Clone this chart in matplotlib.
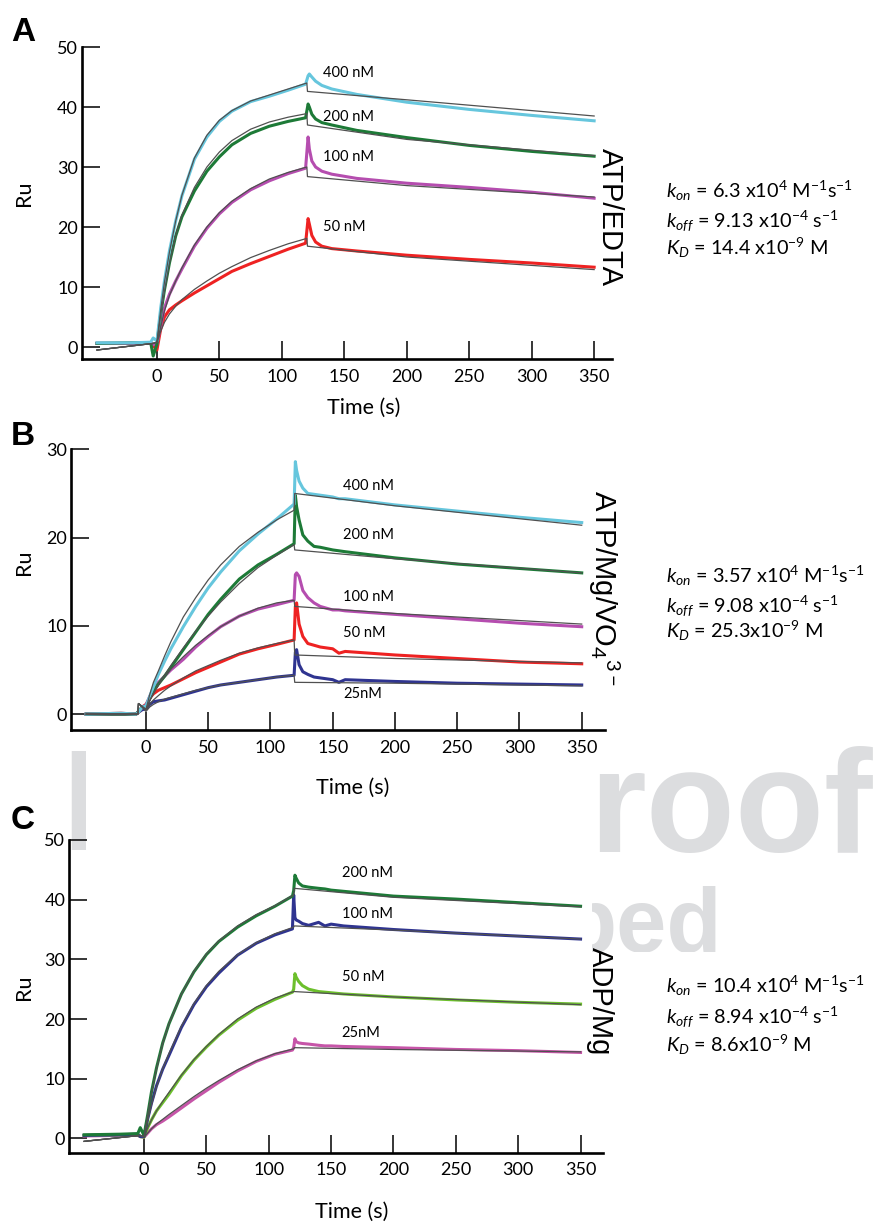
import matplotlib
matplotlib.use("Agg")
from matplotlib import pyplot as plt
from matplotlib.transforms import Bbox, TransformedBbox

W, H = 879, 1224

# ---- panel A (ATP/EDTA) : sensorgram data, shared time grid ----
tA = [-48, -20, -5, -3, 0, 3, 6, 10, 15, 20, 30, 40, 50, 60, 75, 90, 105, 119,
      121, 122, 124, 127, 132, 140, 160, 200, 250, 300, 350]
A400 = [0.7, 0.7, 0.8, 1.5, 1.0, 6.5, 11.0, 16.0, 21.0, 25.2, 31.3, 35.0, 37.6, 39.3, 40.9, 41.8, 42.8, 43.8,
        45.2, 45.5, 45.0, 44.3, 43.6, 43.0, 42.1, 40.8, 39.6, 38.6, 37.7]
A200 = [0.6, 0.7, 0.7, -1.5, 0.5, 5.5, 9.5, 14.0, 18.5, 21.7, 26.0, 29.3, 31.7, 33.7, 35.6, 36.8, 37.6, 38.2,
        40.5, 40.0, 38.8, 38.0, 37.4, 37.0, 36.1, 34.9, 33.6, 32.6, 31.8]
A100 = [0.6, 0.6, 0.6, 0.4, 0.5, 3.5, 6.5, 8.8, 11.0, 13.0, 16.8, 19.8, 22.2, 24.1, 26.2, 27.7, 28.9, 29.8,
        35.0, 33.0, 31.0, 30.0, 29.3, 28.8, 28.1, 27.3, 26.6, 25.8, 24.8]
A50 = [0.6, 0.6, 0.6, 0.2, -0.5, 3.0, 5.0, 6.2, 7.0, 7.7, 9.0, 10.2, 11.4, 12.6, 13.9, 15.1, 16.3, 17.3,
       21.4, 20.5, 18.6, 17.5, 16.8, 16.4, 16.0, 15.3, 14.6, 14.0, 13.3]
# fitted curves A
ftA = [-48, -3, 0, 3, 6, 10, 15, 20, 30, 40, 50, 60, 75, 90, 105, 120, 120.5, 200, 350]
fA400 = [-0.5, 0.6, 0.8, 6.2, 10.8, 15.8, 21.0, 25.3, 31.5, 35.3, 37.8, 39.4, 41.0, 42.0, 43.0, 44.0, 42.6, 41.2, 38.5]
fA200 = [-0.5, 0.6, 0.8, 5.3, 9.3, 13.9, 18.6, 22.0, 26.6, 30.0, 32.5, 34.4, 36.3, 37.5, 38.3, 38.9, 37.0, 34.6, 31.9]
fA100 = [-0.5, 0.6, 0.8, 3.3, 6.0, 8.6, 11.0, 13.2, 17.0, 20.0, 22.4, 24.3, 26.4, 28.0, 29.1, 30.0, 28.4, 26.9, 25.0]
fA50 = [-0.5, 0.6, 0.8, 2.6, 4.1, 5.5, 6.8, 7.9, 9.6, 11.0, 12.3, 13.4, 14.9, 16.1, 17.2, 18.1, 16.8, 15.0, 12.9]

# ---- panel B (ATP/Mg/VO4) ----
tB = [-48, -20, -8, -6, -3, 0, 3, 6, 10, 15, 20, 30, 40, 50, 60, 75, 90, 105, 119,
      120, 121, 123, 126, 130, 135, 140, 150, 155, 160, 200, 250, 300, 350]
B400 = [0.0, 0.1, 0.0, 0.2, 0.8, 0.9, 2.0, 3.1, 4.5, 6.0, 7.4, 9.9, 12.2, 14.3, 16.1, 18.5, 20.4, 22.1, 23.8,
        28.6, 27.6, 26.4, 25.6, 25.0, 24.9, 24.8, 24.6, 24.4, 24.4, 23.7, 23.0, 22.3, 21.7]
B200 = [0.0, 0.0, 0.0, 0.3, 0.8, 0.9, 1.8, 2.6, 3.4, 4.3, 5.3, 7.3, 9.3, 11.3, 13.0, 15.3, 16.9, 18.1, 19.3,
        24.8, 23.5, 22.0, 20.3, 19.6, 19.0, 18.9, 18.6, 18.5, 18.4, 17.7, 17.0, 16.5, 16.0]
B100 = [0.0, 0.0, 0.0, 0.3, 0.8, 1.0, 2.0, 2.8, 3.6, 4.3, 5.0, 6.2, 7.6, 8.8, 9.9, 11.1, 11.9, 12.4, 12.9,
        15.8, 16.0, 15.6, 14.0, 13.2, 12.6, 12.2, 11.8, 11.8, 11.7, 11.3, 10.8, 10.3, 9.9]
B50 = [0.0, 0.1, 0.0, 0.2, 0.8, 1.1, 1.8, 2.3, 2.7, 3.0, 3.3, 4.0, 4.7, 5.3, 5.9, 6.8, 7.4, 7.9, 8.4,
       12.2, 12.6, 10.2, 8.8, 8.0, 7.8, 7.6, 7.4, 6.9, 7.1, 6.7, 6.3, 5.9, 5.7]
B25 = [0.0, 0.0, 0.0, 0.2, 0.5, 0.6, 1.1, 1.4, 1.5, 1.6, 1.8, 2.2, 2.6, 3.0, 3.3, 3.6, 3.9, 4.2, 4.4,
       7.0, 7.3, 5.6, 4.8, 4.5, 4.2, 4.1, 3.9, 3.6, 3.9, 3.7, 3.5, 3.4, 3.3]
ftB = [-48, -6.5, -6, 0, 3, 6, 10, 15, 20, 30, 40, 50, 60, 75, 90, 105, 119, 119.5, 200, 350]
fB400 = [0.0, 0.0, 1.2, 0.5, 2.2, 3.6, 4.9, 6.6, 8.2, 11.0, 13.2, 15.2, 16.9, 19.0, 20.6, 22.0, 23.1, 25.0, 23.6, 21.4]
fB200 = [0.0, 0.0, 1.2, 0.5, 1.5, 2.3, 3.3, 4.4, 5.5, 7.5, 9.4, 11.1, 12.7, 14.8, 16.6, 18.0, 19.2, 18.6, 17.6, 16.0]
fB100 = [0.0, 0.0, 1.2, 0.5, 1.5, 2.4, 3.3, 4.3, 5.1, 6.5, 7.8, 8.9, 9.9, 11.1, 12.0, 12.6, 12.9, 12.2, 11.4, 10.2]
fB50 = [0.0, 0.0, 1.2, 0.5, 1.1, 1.6, 2.1, 2.7, 3.2, 4.1, 4.9, 5.5, 6.1, 6.9, 7.5, 8.0, 8.4, 6.7, 6.3, 5.8]
fB25 = [0.0, 0.0, 1.2, 0.3, 0.8, 1.1, 1.4, 1.7, 1.9, 2.3, 2.7, 3.0, 3.3, 3.6, 3.9, 4.2, 4.4, 3.6, 3.5, 3.2]

# ---- panel C (ADP/Mg) ----
tC = [-48, -20, -5, -3, 0, 3, 6, 10, 15, 20, 30, 40, 50, 60, 75, 90, 105, 119,
      120, 121, 122, 124, 127, 132, 140, 145, 150, 160, 200, 250, 300, 350]
C200 = [0.6, 0.7, 0.8, 1.8, 0.5, 4.0, 7.8, 11.8, 16.0, 19.2, 24.2, 27.9, 30.8, 33.0, 35.4, 37.3, 38.9, 40.6,
        41.5, 44.1, 43.6, 42.8, 42.3, 42.1, 41.9, 41.8, 41.6, 41.4, 40.6, 40.1, 39.5, 38.9]
C100 = [0.5, 0.6, 0.7, 0.3, 0.3, 3.3, 5.9, 8.8, 11.6, 13.9, 18.6, 22.4, 25.4, 27.7, 30.7, 32.7, 34.1, 35.1,
        40.8, 37.0, 36.6, 36.4, 36.0, 35.7, 36.2, 35.6, 35.9, 35.6, 35.0, 34.4, 33.9, 33.4]
C50 = [0.5, 0.6, 0.6, 0.3, 0.2, 1.8, 3.1, 4.6, 6.0, 7.4, 10.5, 13.1, 15.3, 17.3, 19.8, 21.8, 23.3, 24.5,
       25.0, 27.6, 27.0, 26.3, 25.6, 25.0, 24.6, 24.5, 24.4, 24.2, 23.7, 23.2, 22.8, 22.5]
C25 = [0.4, 0.5, 0.5, 0.3, 0.2, 0.9, 1.6, 2.3, 2.9, 3.6, 5.1, 6.6, 8.0, 9.4, 11.3, 12.9, 14.1, 14.8,
       15.2, 16.7, 16.2, 16.0, 15.9, 15.8, 15.6, 15.5, 15.5, 15.4, 15.2, 14.9, 14.7, 14.4]
ftC = [-48, -3, 0, 3, 6, 10, 15, 20, 30, 40, 50, 60, 75, 90, 105, 120, 120.5, 200, 350]
fC200 = [-0.5, 0.5, 0.3, 4.0, 7.6, 11.6, 15.9, 19.2, 24.2, 28.0, 30.9, 33.1, 35.6, 37.5, 39.0, 40.8, 41.9, 40.4, 38.8]
fC100 = [-0.5, 0.5, 0.3, 3.0, 5.6, 8.6, 11.7, 14.2, 18.8, 22.6, 25.6, 28.0, 30.8, 32.8, 34.3, 35.4, 35.6, 34.9, 33.4]
fC50 = [-0.5, 0.5, 0.3, 1.8, 3.1, 4.6, 6.2, 7.7, 10.6, 13.2, 15.4, 17.4, 20.0, 22.0, 23.5, 24.6, 24.6, 23.7, 22.4]
fC25 = [-0.5, 0.5, 0.2, 0.9, 1.6, 2.4, 3.2, 4.0, 5.5, 7.0, 8.4, 9.7, 11.5, 13.0, 14.2, 15.0, 15.2, 14.9, 14.5]

labels_A = ["400 nM", "200 nM", "100 nM", "50 nM"]
labels_B = ["400 nM", "200 nM", "100 nM", "50 nM", "25nM"]
labels_C = ["200 nM", "100 nM", "50 nM", "25nM"]
label_y_A = [45.6, 38.4, 31.7, 20.0]
label_y_B = [25.8, 20.3, 13.25, 9.2, 2.3]
label_y_C = [44.5, 37.6, 27.0, 17.6]

kin_A = [r"$k_{on}$ = 6.3 x10$^{4}$ M$^{-1}$s$^{-1}$", r"$k_{off}$ = 9.13 x10$^{-4}$ s$^{-1}$",
         r"$K_{D}$ = 14.4 x10$^{-9}$ M"]
kin_B = [r"$k_{on}$ = 3.57 x10$^{4}$ M$^{-1}$s$^{-1}$", r"$k_{off}$ = 9.08 x10$^{-4}$ s$^{-1}$",
         r"$K_{D}$ = 25.3x10$^{-9}$ M"]
kin_C = [r"$k_{on}$ = 10.4 x10$^{4}$ M$^{-1}$s$^{-1}$", r"$k_{off}$ = 8.94 x10$^{-4}$ s$^{-1}$",
         r"$K_{D}$ = 8.6x10$^{-9}$ M"]

CYAN = "#66c6dd"
DGREEN = "#1d7a37"
MAGENTA = "#b54daf"
RED = "#ee2222"
NAVY = "#2f3490"
LGREEN = "#6cbf2c"
PINK = "#c655a8"
FIT = "#505050"

plt.rcParams['font.family'] = 'Lato'
plt.rcParams['mathtext.fontset'] = 'custom'
plt.rcParams['mathtext.rm'] = 'Lato'
plt.rcParams['mathtext.it'] = 'Lato:italic'
plt.rcParams['mathtext.bf'] = 'Lato:bold'

fig = plt.figure(figsize=(W / 100, H / 100), dpi=100)


def fx(x):
    return x / W


def fy(y):
    return 1 - y / H


def panel(box, xlim, ylim, yticks):
    l, t, r, b = box
    ax = fig.add_axes([fx(l), fy(b), (r - l) / W, (b - t) / H])
    ax.set_facecolor('none')
    ax.set_xlim(xlim)
    ax.set_ylim(ylim)
    for s in ['top', 'right']:
        ax.spines[s].set_visible(False)
    for s in ['left', 'bottom']:
        ax.spines[s].set_linewidth(1.9)
    ax.set_xticks([0, 50, 100, 150, 200, 250, 300, 350])
    ax.set_yticks(yticks)
    ax.tick_params(direction='in', length=13, width=1.1, labelsize=13)
    ax.tick_params(axis='y', pad=3)
    ax.tick_params(axis='x', pad=7)
    return ax


def draw(ax, t, series, ft, fits, colors):
    # lowest curve first so the top curve sits on top at the baseline
    for v, c in reversed(list(zip(series, colors))):
        ax.plot(t, v, color=c, lw=2.2, solid_joinstyle='round', zorder=2)
    for v in fits:
        ax.plot(ft, v, color=FIT, lw=0.9, zorder=3)


def texts(letter, ly, ru_y, time_xy, tag, tag_xy, tag_size, kin, kin_y):
    fig.text(fx(11), fy(ly), letter, fontsize=24, fontweight='bold',
             family='Liberation Sans', va='baseline')
    fig.text(fx(24), fy(ru_y), "Ru", rotation=90, fontsize=15.5, ha='center', va='center')
    fig.text(fx(time_xy[0]), fy(time_xy[1]), "Time (s)", fontsize=15.5, ha='center', va='center')
    fig.text(fx(tag_xy[0]), fy(tag_xy[1]), tag, rotation=-90, fontsize=tag_size,
             family='Liberation Sans', ha='center', va='top')
    for s, y in zip(kin, kin_y):
        fig.text(fx(666), fy(y), s, fontsize=14.3, va='baseline')


# watermark behind the panels
GRAYW = "#dcdddf"
wm1 = fig.text(fx(61), fy(852), "I", fontsize=105, fontweight='bold', family='Liberation Sans',
               color=GRAYW, zorder=-5, va='baseline')
wm1.set_clip_box(TransformedBbox(Bbox.from_extents(0, fy(850), fx(86), 1), fig.transFigure))
fig.text(fx(589), fy(852), "roof", fontsize=105, fontweight='bold', family='Liberation Sans',
         color=GRAYW, zorder=-5, va='baseline')
wm2 = fig.text(fx(561), fy(952), "ped", fontsize=65, fontweight='bold', family='Liberation Sans',
               color=GRAYW, zorder=-5, va='baseline')
wm2.set_clip_box(TransformedBbox(Bbox.from_extents(fx(592), fy(952), 1, 1), fig.transFigure))

# panel A
axA = panel((82, 47, 612, 359), (-60, 364.3), (-2, 50), [0, 10, 20, 30, 40, 50])
draw(axA, tA, [A400, A200, A100, A50], ftA, [fA400, fA200, fA100, fA50],
     [CYAN, DGREEN, MAGENTA, RED])
for s, y in zip(labels_A, label_y_A):
    axA.text(133, y, s, fontsize=10.5, va='center')
texts("A", 41, 193, (364, 408), "ATP/EDTA", (610, 148), 21, kin_A, [198, 227, 255])

# panel B
axB = panel((71, 449.3, 605, 730), (-60.2, 368.7), (-1.8, 30), [0, 10, 20, 30])
draw(axB, tB, [B400, B200, B100, B50, B25], ftB, [fB400, fB200, fB100, fB50, fB25],
     [CYAN, DGREEN, MAGENTA, RED, NAVY])
for s, y in zip(labels_B, label_y_B):
    axB.text(158.5, y, s, fontsize=10.5, va='center')
texts("B", 445, 562, (353, 788), r"ATP/Mg/VO$_4$$^{3-}$", (604, 490), 21, kin_B, [583, 612, 638])

# panel C
axC = panel((69.3, 840, 603, 1152.7), (-59.9, 368), (-2.4, 50), [0, 10, 20, 30, 40, 50])
draw(axC, tC, [C200, C100, C50, C25], ftC, [fC200, fC100, fC50, fC25],
     [DGREEN, NAVY, LGREEN, PINK])
for s, y in zip(labels_C, label_y_C):
    axC.text(158.5, y, s, fontsize=10.5, va='center')
texts("C", 829, 987, (352, 1212), "ADP/Mg", (600, 947), 21, kin_C, [993, 1023, 1052])

fig.savefig("out.png", dpi=100)
